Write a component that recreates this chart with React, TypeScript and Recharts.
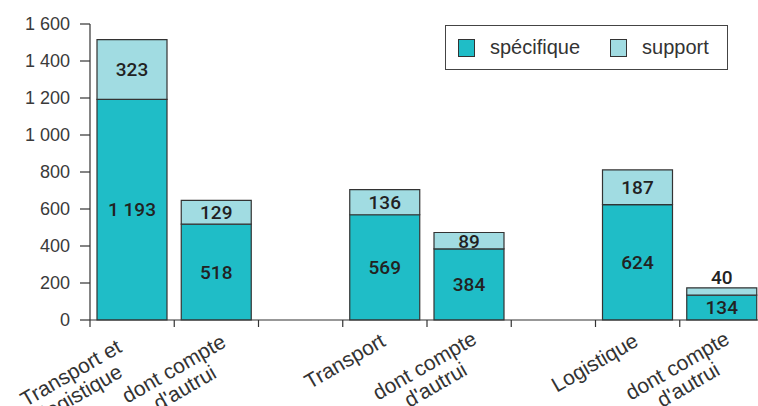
import { BarChart, Bar, XAxis, YAxis, Legend, LabelList } from "recharts";

const categories = [
  "Transport et\nlogistique",
  "dont compte\nd'autrui",
  "",
  "Transport",
  "dont compte\nd'autrui",
  "",
  "Logistique",
  "dont compte\nd'autrui",
];
const specifique = [1193, 518, null, 569, 384, null, 624, 134];
const support = [323, 129, null, 136, 89, null, 187, 40];
const yTicks = [0, 200, 400, 600, 800, 1000, 1200, 1400, 1600];

const data = categories.map((name, i) => ({
  name,
  specifique: specifique[i],
  support: support[i],
}));

const FONT = '"Liberation Sans", Arial, Helvetica, sans-serif';
const INK = "#333";
const CHART_W = 764;
const LEFT = 10;
const Y_W = 80;
const HALF_BAND = (CHART_W - LEFT - Y_W) / categories.length / 2;

// space as thousands separator, like "1 193"
const fmt = (v: number) => String(v).replace(/\B(?=(\d{3})+(?!\d))/g, " ");

let ctx: CanvasRenderingContext2D | null = null;
const measure = (s: string, size: number) => {
  if (!ctx) ctx = document.createElement("canvas").getContext("2d");
  if (!ctx) return s.length * size * 0.5;
  ctx.font = `${size}px "Liberation Sans"`;
  return ctx.measureText(s).width;
};

// the first group's labels sit a bit off in the original
const nudge: Record<number, [number, number]> = { 0: [-18, 8], 1: [2, 3] };

const CatTick = ({ x, y, payload, index }: any) => {
  const lines: string[] = payload.value ? String(payload.value).split("\n") : [];
  const size = 21;
  const lh = 22;
  const w = lines.length ? Math.max(...lines.map((l) => measure(l, size))) : 0;
  const [nx, ny] = nudge[index] ?? [0, 0];
  const multi = lines.length > 1;
  const ax = x + (multi ? 9 : 2) + nx;
  const ay = y + (multi ? 23 : 25) + ny;
  return (
    <g>
      <line x1={x - HALF_BAND} x2={x - HALF_BAND} y1={y} y2={y + 7} stroke={INK} strokeWidth={1.2} />
      <g transform={`rotate(-30 ${ax} ${ay})`}>
        {lines.map((l, i) => (
          <text
            key={i}
            x={ax - w / 2}
            y={ay + i * lh}
            textAnchor="middle"
            fontFamily={FONT}
            fontSize={size}
            fill="#333"
          >
            {l}
          </text>
        ))}
      </g>
    </g>
  );
};

const valueStyle = { fontFamily: "Roboto, " + FONT, fontSize: 19, fontWeight: 500, fill: "#222" };

const MidLabel = ({ x, y, width, height, value }: any) => {
  if (value == null) return null;
  return (
    <text x={x + width / 2} y={y + height / 2} dy="0.36em" textAnchor="middle" {...valueStyle}>
      {fmt(value)}
    </text>
  );
};

const TopLabel = ({ x, y, width, height, value }: any) => {
  if (value == null) return null;
  const small = height < 14;
  return (
    <text
      x={x + width / 2}
      y={small ? y - 11 : y + height / 2}
      dy="0.36em"
      textAnchor="middle"
      {...valueStyle}
    >
      {fmt(value)}
    </text>
  );
};

const LegendBox = ({ payload }: any) => (
  <div
    style={{
      border: "1px solid #444",
      boxSizing: "border-box",
      height: 45,
      display: "flex",
      alignItems: "center",
      paddingLeft: 12,
      fontFamily: FONT,
      fontSize: 20,
      color: "#333",
      background: "#fff",
    }}
  >
    {(payload || []).map((p: any, i: number) => (
      <div key={i} style={{ display: "flex", alignItems: "center", marginRight: 30 }}>
        <span
          style={{
            width: 17,
            height: 18,
            boxSizing: "border-box",
            border: "1px solid #333",
            background: p.color,
            marginRight: 15,
          }}
        />
        <span>{p.value}</span>
      </div>
    ))}
  </div>
);

export default function App() {
  return (
    <div
      style={{
        position: "fixed",
        left: 0,
        top: 0,
        width: 758,
        height: 406,
        overflow: "hidden",
        background: "#fff",
      }}
    >
      <BarChart
        width={CHART_W}
        height={406}
        data={data}
        margin={{ top: 24, right: 0, left: LEFT, bottom: 0 }}
      >
        <XAxis
          dataKey="name"
          interval={0}
          height={86}
          tickLine={false}
          tickSize={0}
          tickMargin={0}
          axisLine={{ stroke: INK, strokeWidth: 1.2 }}
          tick={<CatTick />}
        />
        <YAxis
          width={Y_W}
          domain={[0, 1600]}
          ticks={yTicks}
          interval={0}
          tickSize={10}
          tickMargin={10}
          tickFormatter={fmt}
          axisLine={{ stroke: INK, strokeWidth: 1.2 }}
          tickLine={{ stroke: INK, strokeWidth: 1.2 }}
          tick={{ fontFamily: FONT, fontSize: 18, fill: "#3a3a3a" }}
        />
        <Legend
          layout="vertical"
          align="center"
          verticalAlign="middle"
          wrapperStyle={{ left: 445, top: 25, width: 283, height: 45 }}
          content={<LegendBox />}
        />
        <Bar
          dataKey="specifique"
          name="spécifique"
          stackId="a"
          fill="#1FBDC7"
          stroke={INK}
          strokeWidth={1.2}
          barSize={70}
          isAnimationActive={false}
        >
          <LabelList dataKey="specifique" content={<MidLabel />} />
        </Bar>
        <Bar
          dataKey="support"
          name="support"
          stackId="a"
          fill="#A1DCE2"
          stroke={INK}
          strokeWidth={1.2}
          barSize={70}
          isAnimationActive={false}
        >
          <LabelList dataKey="support" content={<TopLabel />} />
        </Bar>
      </BarChart>
    </div>
  );
}
